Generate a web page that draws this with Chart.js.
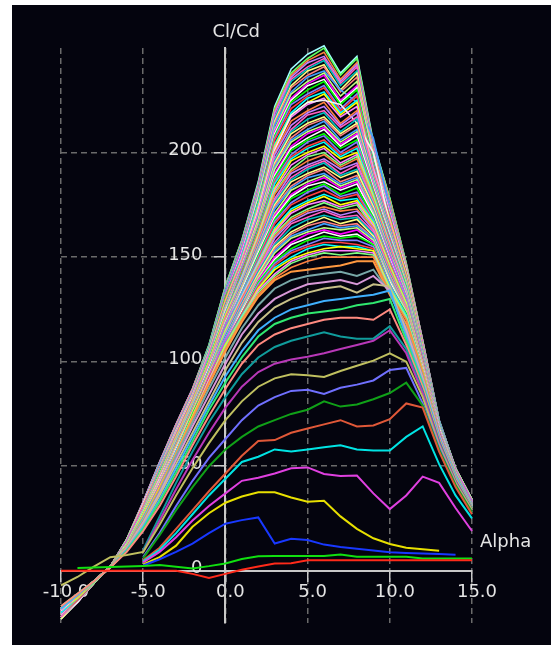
<!DOCTYPE html>
<html><head><meta charset="utf-8">
<script src="https://cdn.jsdelivr.net/npm/chart.js@4.4.1/dist/chart.umd.min.js"></script>
<style>html,body{margin:0;padding:0;background:#fff;}canvas{display:block;}</style>
</head><body>
<canvas id="c" width="551" height="647"></canvas>
<script>
// ---- axis data ----
const alpha = [-10,-9,-8,-7,-6,-5,-4,-3,-2,-1,0,1,2,3,4,5,6,7,8,9,10,11,12,13,14,15];
const xTickValues = [-10,-5,0,5,10,15];
const yTickValues = [0,50,100,150,200];
const xTitle = 'Alpha';
const yTitle = 'Cl/Cd';
const _ = null;

// ---- low / mid Reynolds polars (Cl/Cd per alpha) ----
const polarRed      = [0,0,0,0,0,0,0,0,-1.5,-3.5,-1.5,0.5,2,3.5,3.6,5,5,5,5,5,5,5,5,5,5,5];
const polarGreen    = [_,1.3,1.5,1.8,2,2.3,2.7,1.9,1.1,2.2,3.5,5.6,6.9,7,7,7,7,7.8,6.7,6.7,6.7,6.7,5.9,5.9,5.9,5.9];
const polarBlue     = [_,_,_,_,_,2.5,5.5,9,13,18,22.5,24.2,25.5,13,15.3,14.7,12.5,11.3,10.5,9.7,8.8,8.5,8.2,8,7.7,_];
const polarYellow   = [_,_,_,_,_,3,6.5,12,21,27.5,32.5,35.5,37.5,37.5,35,33,33.5,26,20,15.5,12.8,11,10.3,9.5,_,_];
const polarMagenta  = [_,_,_,_,_,4,9,16,24,31,37,43,44.5,46.5,49,49.4,46.3,45.3,45.5,37,29.5,36,45,42,30,19];
const polarCyan     = [_,_,_,_,_,4.5,10,18,27,36,44,52,54.5,58,57,58,59,60,58,57.5,57.5,64,69,51,36,25];
const polarOrange   = [_,_,_,_,_,5,11,20,29,38,46.5,55,62,62.5,66,68,70,72,69,69.5,72.5,80,78,57,40,27];
const polarDkGreen  = [_,_,_,_,_,6,17,29,40,50,58,64,69,72,75,77,81,78.5,79.5,82,85,90,79,58,41,28];
const polarLavender = [_,_,_,_,_,6.5,18,31,43,54,63,72,79,83,86,86.5,84.5,87.5,89,91,96,97,80,59,41,28];
const polarOlive    = [-7,-3,2,6.5,7.5,9,22,36,49,61,72,81,88,92,94,93.5,92.7,95.5,98,100.5,104,100,83,60,42,29];
const polarPurple   = [_,_,_,_,_,9,24,39,53,66,78,88,95,99,101,102.3,104,106,108,110,115,104,85,61,42.5,29];
const polarTeal     = [_,_,_,_,_,10,26,42,57,71,83,94,102,107,110,112,114,112,111,111,117,106,86,62,43,29.5];
const polarSalmon   = [-17,-11,-5,1.5,9,19,31,45,60,74,87,99,108,113,116,118,120,121,121,120,125,108,88,63,44,30];
const polarLime     = [-17,-11,-5,1.5,9.5,20,33,47,62,77,90,102,112,118,121,123,124,125,127,128,130,110,89,63,44,30];
const polarSky      = [-18,-11.5,-5,1.5,10,21,34,49,64,79,93,105,115,121,125,127,129,130,131,132,134,112,90,64,45,30.5];
const polarKhaki    = [-18,-11.5,-5,1.5,10.5,22,36,51,66,81,96,109,119,126,130,133,135,136,133,137,136,113,91,64,45,31];
const polarLilac    = [-18.5,-11.5,-5,1.5,11,23,37,53,69,84,99,113,123,130,134,137,138,139,137,141,134,115,92,65,45,31];
const polarSlate    = [-18.5,-11.5,-5,1.5,11,23.5,38,55,71,87,102,116,127,135,139,141,142,143,141,144,133,116,93,65,46,31];
const polarAmber    = [-18,-11.5,-5,1.5,11.5,24,39,56,73,89,105,119,131,139,143,144,145,146,148,148,132,118,94,65,46,31];

// ---- high Reynolds polars ----
const polarU00  = [-18,-12,-5,2,11,24,39,56,73,90,106,120,132,140,145,148,150,150,150,150,133,120,95,65,45,30];
const polarU00b = [-18,-12,-5,2,11,24,39,56,73,90,107,121,133,141,147,150,152,151,152,151,134,121,95,65,45,30];
const polarU01  = [-18,-12,-5,2,11,24,39,56,73,91,107,121,134,142,148,151,153,153,153,152,134,121,95,65,45,30];
const polarU01b = [-18,-12,-5,2,11,24,40,56,74,91,108,121,135,144,149,152,154,155,154,153,135,121,96,65,45,30];
const polarU02  = [-18,-12,-5,2,11,25,40,57,74,91,108,122,135,145,150,154,156,155,155,153,136,122,96,65,45,30];
const polarU02b = [-18,-12,-5,2,11,25,40,57,74,92,108,123,136,146,152,155,157,157,156,154,136,122,96,66,45,30];
const polarU03  = [-18,-12,-5,2,11,25,40,57,74,92,109,123,137,147,153,156,159,158,158,155,137,122,96,66,45,30];
const polarU03b = [-18,-12,-5,2,11,25,40,57,75,92,109,123,138,148,154,158,160,159,160,156,137,123,96,66,45,30];
const polarU04  = [-19,-12,-5,2,11,25,40,58,75,92,109,124,138,149,156,159,162,160,161,156,138,123,97,66,45,30];
const polarU04b = [-19,-12,-5,2,11,25,41,58,75,93,110,124,139,150,157,161,163,161,163,157,138,123,97,66,45,30];
const polarU05  = [-19,-12,-5,2,12,25,41,58,75,93,110,125,140,152,159,162,164,163,164,158,139,124,97,66,46,31];
const polarU05b = [-19,-12,-5,2,12,25,41,58,75,93,111,126,140,153,160,163,166,164,165,159,140,124,97,66,46,31];
const polarU06  = [-19,-12,-5,2,12,26,41,58,75,93,111,127,141,154,161,165,167,165,166,159,141,125,98,66,46,31];
const polarU06b = [-19,-12,-5,2,12,26,42,59,76,94,111,127,142,155,162,166,169,166,168,160,141,125,98,66,46,31];
const polarU07  = [-19,-12,-5,2,12,26,42,59,76,94,112,128,143,156,164,168,170,168,169,161,142,125,98,66,46,31];
const polarU07b = [-19,-12,-5,2,12,26,42,59,76,94,112,128,144,157,166,169,172,169,170,162,143,126,98,66,46,31];
const polarU08  = [-19,-12,-5,2,12,26,42,59,76,94,113,129,144,159,167,171,173,170,172,163,143,126,98,67,46,31];
const polarU08b = [-19,-12,-5,2,12,26,42,60,77,95,113,130,145,160,168,172,174,172,173,164,144,126,98,67,46,31];
const polarU09  = [-19,-12,-5,2,12,26,42,60,77,95,114,130,146,161,169,173,176,173,175,164,145,127,99,67,46,31];
const polarU09b = [-19,-12,-5,2,12,26,43,60,77,95,114,131,147,162,171,175,177,174,176,165,145,127,99,67,46,31];
const polarU10  = [-19,-13,-5,2,12,27,43,60,77,95,115,131,147,163,172,176,179,175,177,166,146,128,99,67,46,31];
const polarU10b = [-20,-13,-5,2,12,27,43,60,77,96,115,132,148,164,173,177,180,177,178,167,146,128,99,67,46,31];
const polarU11  = [-20,-13,-5,2,12,27,43,60,77,96,115,132,149,166,175,179,182,178,180,167,147,128,100,67,46,31];
const polarU11b = [-20,-13,-5,2,12,27,43,61,78,96,116,133,150,167,176,181,184,179,181,168,148,129,100,67,46,31];
const polarU12  = [-20,-13,-5,2,12,27,43,61,78,96,116,133,151,168,178,182,185,180,183,169,148,129,100,67,46,31];
const polarU12b = [-20,-13,-5,2,12,27,44,61,78,97,116,134,152,169,179,184,186,182,185,170,149,129,100,68,46,31];
const polarU13  = [-20,-13,-5,2,12,27,44,61,78,97,117,134,152,170,180,185,188,183,186,170,150,130,101,68,46,31];
const polarU13b = [-20,-13,-5,2,13,28,44,62,79,97,117,135,153,171,182,186,189,184,187,171,150,130,101,68,47,31];
const polarU14  = [-20,-13,-5,2,13,28,44,62,79,97,118,135,154,173,183,188,190,185,188,172,151,131,101,68,47,32];
const polarU14b = [-20,-13,-5,2,13,28,45,62,79,98,118,136,155,174,184,189,192,186,189,173,152,131,101,68,47,32];
const polarU15  = [-20,-13,-5,2,13,28,45,62,79,98,119,136,155,175,186,190,193,188,191,174,152,132,101,68,47,32];
const polarU15b = [-20,-13,-5,2,13,28,45,62,79,98,119,137,156,176,187,192,195,189,192,175,153,132,102,68,47,32];
const polarU16  = [-20,-13,-5,2,13,28,45,62,79,98,120,137,157,177,188,193,196,190,194,175,154,132,102,68,47,32];
const polarU16b = [-20,-13,-5,2,13,28,45,63,80,99,120,138,157,178,190,194,197,192,195,176,154,133,102,68,47,32];
const polarU17  = [-20,-13,-5,2,13,28,45,63,80,99,121,138,158,180,191,196,199,193,197,177,155,133,102,68,47,32];
const polarU17b = [-20,-13,-6,2,13,29,46,63,80,99,121,139,159,181,192,198,200,194,198,178,155,133,103,69,47,32];
const polarU18  = [-21,-13,-6,2,13,29,46,63,80,99,121,140,160,182,194,199,202,195,199,178,156,134,103,69,47,32];
const polarU18b = [-21,-13,-6,2,13,29,46,64,81,100,122,140,161,183,196,200,203,197,200,179,156,134,103,69,47,32];
const polarU19  = [-21,-13,-6,2,13,29,46,64,81,100,122,141,161,185,197,202,205,198,202,180,157,135,103,69,47,32];
const polarU19b = [-21,-14,-6,2,13,29,46,64,81,100,122,142,162,186,198,203,206,199,203,181,158,135,103,69,47,32];
const polarU20  = [-21,-14,-6,2,13,29,46,64,81,100,123,142,163,187,199,205,208,200,205,181,159,135,104,69,47,32];
const polarU20b = [-21,-14,-6,2,13,29,47,64,81,101,123,143,164,188,201,206,209,202,206,182,159,136,104,69,47,32];
const polarU21  = [-21,-14,-6,2,13,29,47,64,81,101,124,143,164,189,202,207,211,203,208,183,160,136,104,69,47,32];
const polarU21b = [-21,-14,-6,2,14,30,47,65,82,101,124,144,165,190,203,209,212,204,209,184,160,136,104,69,48,33];
const polarU22  = [-21,-14,-6,2,14,30,47,65,82,101,125,144,166,192,205,210,213,205,210,185,161,137,104,69,48,33];
const polarU22b = [-21,-14,-6,2,14,30,48,65,82,102,125,145,166,193,206,211,215,206,211,186,162,137,105,70,48,33];
const polarU23  = [-21,-14,-6,2,14,30,48,65,82,102,126,145,167,194,207,213,216,208,213,186,163,138,105,70,48,33];
const polarU23b = [-21,-14,-6,2,14,30,48,66,83,102,126,146,168,195,209,214,217,209,214,187,163,138,105,70,48,33];
const polarU24  = [-21,-14,-6,2,14,30,48,66,83,102,127,146,169,196,210,216,219,210,216,188,164,139,105,70,48,33];
const polarU24b = [-22,-14,-6,2,14,30,48,66,83,103,127,147,170,197,211,218,220,212,217,189,164,139,106,70,48,33];
const polarU25  = [-22,-14,-6,2,14,30,48,66,83,103,127,147,171,199,213,219,222,213,219,189,165,139,106,70,48,33];
const polarU25b = [-22,-14,-6,2,14,31,49,66,83,103,128,148,171,200,215,220,224,214,220,190,166,140,106,70,48,33];
const polarU26  = [-22,-14,-6,2,14,31,49,66,83,103,128,148,172,201,218,224,225,223,214,200,166,140,106,70,48,33];
const polarU26b = [-22,-14,-6,2,14,31,49,67,84,104,128,149,173,202,217,223,226,217,222,192,167,140,106,70,48,33];
const polarU27  = [-22,-14,-6,2,14,31,49,67,84,104,129,149,174,203,218,224,228,218,224,192,168,141,107,70,48,33];
const polarU27b = [-22,-14,-6,2,14,31,49,67,84,104,129,150,175,204,219,226,229,219,225,193,168,141,107,71,48,33];
const polarU28  = [-22,-14,-6,2,14,31,49,67,84,104,130,150,175,206,221,227,231,220,227,194,169,142,107,71,48,33];
const polarU28b = [-22,-14,-6,2,14,31,50,68,85,105,130,151,176,207,223,228,232,221,228,195,170,142,107,71,48,33];
const polarU29  = [-22,-14,-6,2,14,31,50,68,85,105,131,151,177,208,224,230,234,223,230,196,170,142,107,71,48,33];
const polarU29b = [-22,-15,-6,2,14,32,50,68,85,105,131,152,178,209,225,232,235,224,231,197,171,143,107,71,48,33];
const polarU30  = [-22,-15,-6,2,14,32,50,68,85,105,132,153,178,210,226,233,237,225,232,197,172,143,108,71,48,33];
const polarU30b = [-22,-15,-6,2,15,32,50,68,85,106,132,153,179,211,228,234,238,227,234,198,172,144,108,71,49,34];
const polarU31  = [-22,-15,-6,2,15,32,51,68,85,106,133,154,180,213,229,236,239,230,224,207,173,144,108,71,49,34];
const polarU31b = [-22,-15,-6,2,15,32,51,69,86,106,133,155,181,214,231,237,241,229,236,200,174,145,108,71,49,34];
const polarU32  = [-23,-15,-6,2,15,32,51,69,86,106,133,155,181,215,232,239,242,230,238,200,174,145,109,71,49,34];
const polarU32b = [-23,-15,-6,2,15,32,51,69,86,107,134,156,182,216,234,240,244,232,239,201,175,145,109,72,49,34];
const polarU33  = [-23,-15,-6,2,15,32,51,69,86,107,134,156,183,217,235,241,245,233,241,202,175,145,109,72,49,34];
const polarU33b = [-23,-15,-6,2,15,33,52,70,87,107,135,157,184,219,236,243,246,234,242,203,176,146,110,72,49,34];
const polarU34  = [-23,-15,-6,2,15,33,52,70,87,107,135,157,184,220,237,244,248,235,243,203,177,146,110,72,49,34];
const polarU34b = [-23,-15,-6,2,15,33,52,70,87,108,136,158,185,221,238,245,250,237,245,204,178,147,110,72,49,34];
const polarU35  = [-23,-15,-6,2,15,33,52,70,87,108,136,158,186,222,240,247,251,238,246,205,178,147,110,72,49,34];

const lowerSeries = [polarRed,polarGreen,polarBlue,polarYellow,polarMagenta,polarCyan,polarOrange,polarDkGreen,
  polarLavender,polarOlive,polarPurple,polarTeal,polarSalmon,polarLime,polarSky,polarKhaki,polarLilac,polarSlate,polarAmber];
const lowerColors = ['#ff2a1a','#10e010','#1838ff','#e8e000','#e040e0','#00e4e4','#e05838','#10a018',
  '#7070ff','#c0c060','#b838b8','#109c9c','#ff8a80','#30e870','#40b0ff','#c8c088','#d898d8','#78a8a8','#ff9840'];
const upperSeries = [polarU00,polarU00b,polarU01,polarU01b,polarU02,polarU02b,polarU03,polarU03b,polarU04,polarU04b,
  polarU05,polarU05b,polarU06,polarU06b,polarU07,polarU07b,polarU08,polarU08b,polarU09,polarU09b,polarU10,polarU10b,
  polarU11,polarU11b,polarU12,polarU12b,polarU13,polarU13b,polarU14,polarU14b,polarU15,polarU15b,polarU16,polarU16b,
  polarU17,polarU17b,polarU18,polarU18b,polarU19,polarU19b,polarU20,polarU20b,polarU21,polarU21b,polarU22,polarU22b,
  polarU23,polarU23b,polarU24,polarU24b,polarU25,polarU25b,polarU26,polarU26b,polarU27,polarU27b,polarU28,polarU28b,
  polarU29,polarU29b,polarU30,polarU30b,polarU31,polarU31b,polarU32,polarU32b,polarU33,polarU33b,polarU34,polarU34b,polarU35];
const upperPalette = ['#ff8040','#80ff80','#ff80ff','#ffff00','#00ffff','#ff4040','#8080ff','#00ff00','#ffffff',
  '#ff00ff','#c0ff80','#40a0ff','#ff8080','#ffff80','#00c0c0','#ff60c0','#c080ff'];

// ---- styling ----
const BG = '#04040e';
const TEXT = '#e4e4e4';
const AXIS = '#c8c8c8';
const GRID = '#6a6a6a';
const FONT = 'DejaVu Sans';
const FSIZE = 18;

function toPoints(vals){ return vals.map((v,i)=>({x: alpha[i], y: v})); }
function upperColor(i){
  if (upperSeries[i] === polarU35) return '#a0ffff';
  if (upperSeries[i] === polarU26) return '#f4f4f4';
  if (upperSeries[i] === polarU34b) return '#60ff60';
  return upperPalette[i % upperPalette.length];
}
const datasets = [];
lowerSeries.forEach((s,i)=>datasets.push({data: toPoints(s), borderColor: lowerColors[i], borderWidth: 2}));
upperSeries.forEach((s,i)=>datasets.push({data: toPoints(s), borderColor: upperColor(i), borderWidth: 1.6}));

const bgPlugin = {
  id: 'bg',
  beforeDraw(chart){
    const c = chart.ctx;
    c.save();
    c.fillStyle = '#ffffff'; c.fillRect(0,0,chart.width,chart.height);
    c.fillStyle = BG; c.fillRect(12,5,chart.width-12,640);
    c.restore();
  }
};
const titlePlugin = {
  id: 'titles',
  afterDraw(chart){
    const c = chart.ctx, xs = chart.scales.x, ys = chart.scales.y, a = chart.chartArea;
    c.save();
    c.font = FSIZE + 'px "' + FONT + '"';
    c.fillStyle = TEXT;
    c.textBaseline = 'middle';
    c.textAlign = 'left';
    c.fillText(yTitle, xs.getPixelForValue(0) - 13, a.top - 16);
    c.fillText(xTitle, a.right + 8, ys.getPixelForValue(0) - 28);
    c.restore();
  }
};

new Chart(document.getElementById('c'), {
  type: 'line',
  data: { datasets },
  options: {
    responsive: false,
    animation: false,
    events: [],
    layout: { padding: { left: 61, right: 79, top: 48, bottom: 24 } },
    plugins: { legend: { display: false }, tooltip: { enabled: false }, title: { display: false } },
    elements: { point: { radius: 0 }, line: { tension: 0 } },
    datasets: { line: { clip: false, spanGaps: false, fill: false } },
    scales: {
      x: {
        type: 'linear', min: -10, max: 15,
        position: { y: 0 },
        afterBuildTicks: s => { s.ticks = xTickValues.map(v => ({ value: v })); },
        ticks: { callback: v => Number(v).toFixed(1), color: TEXT, font: { family: FONT, size: FSIZE },
                 padding: 1, labelOffset: 5, maxRotation: 0, autoSkip: false },
        grid: { color: GRID, lineWidth: 1.5, drawTicks: true, tickLength: 10, tickColor: AXIS, tickWidth: 1.5 },
        border: { display: true, color: AXIS, width: 2, dash: [6,4] }
      },
      y: {
        type: 'linear', min: -25, max: 250,
        position: { x: 0 },
        afterBuildTicks: s => { s.ticks = yTickValues.map(v => ({ value: v })); },
        ticks: { callback: v => String(v) + '    ', color: TEXT, font: { family: FONT, size: FSIZE },
                 padding: 1, labelOffset: -2, autoSkip: false },
        grid: { color: GRID, lineWidth: 1.5, drawTicks: true, tickLength: 10, tickColor: AXIS, tickWidth: 1.5 },
        border: { display: true, color: AXIS, width: 2, dash: [6,4] }
      }
    }
  },
  plugins: [bgPlugin, titlePlugin]
});
</script>
</body></html>
